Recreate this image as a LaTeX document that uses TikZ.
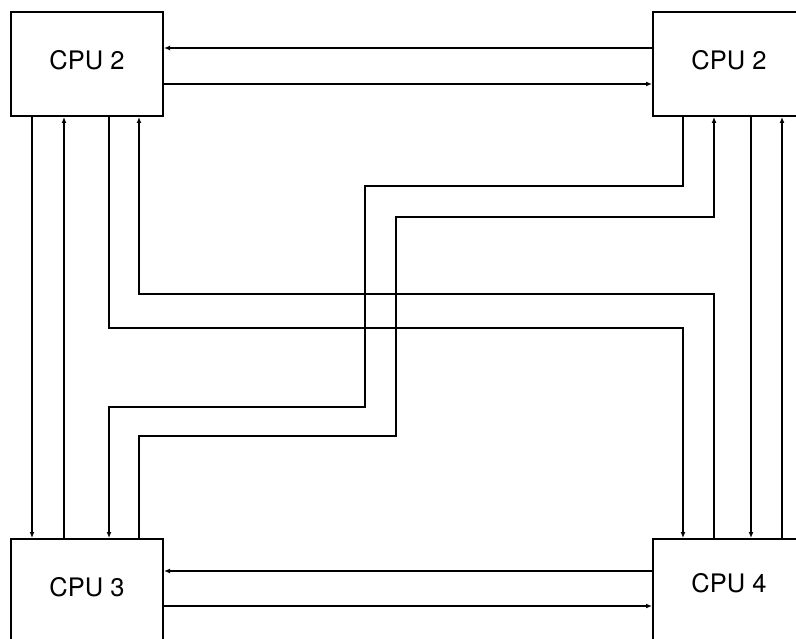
\documentclass[tikz,border=0pt]{standalone}
\usepackage{fontspec}
\setmainfont{TeX Gyre Heros}
\usetikzlibrary{arrows.meta,positioning}

\begin{document}
\begin{tikzpicture}[x=1pt,y=-1pt,
    cpu/.style={draw, line width=2pt, minimum width=152pt, minimum height=104pt,
                text depth=8pt, font=\fontsize{25.5}{30}\selectfont},
    link/.style={line width=1.5pt, -{Latex[length=6pt,width=5pt]}}]
        \useasboundingbox (0,0) rectangle (796,639);
        % processors
        \node[cpu] (tl) at (87,64) {CPU 2};
        \node[cpu] (tr) at (729,64) {CPU 2};
        \node[cpu] (c3) at (87,591) {CPU 3};
        \node[cpu, text depth=16pt] (c4) at (729,591) {CPU 4};
        % horizontal links
        \draw[link] ([yshift=16pt]tr.west) -- ([yshift=16pt]tl.east);
        \draw[link] ([yshift=-20pt]tl.east) -- ([yshift=-20pt]tr.west);
        \draw[link] ([yshift=20pt]c4.west) -- ([yshift=20pt]c3.east);
        \draw[link] ([yshift=-15pt]c3.east) -- ([yshift=-15pt]c4.west);
        % vertical links
        \draw[link] ([xshift=22pt]tl.south west) -- ([xshift=22pt]c3.north west);
        \draw[link] ([xshift=54pt]c3.north west) -- ([xshift=54pt]tl.south west);
        \draw[link] ([xshift=99pt]tr.south west) -- ([xshift=99pt]c4.north west);
        \draw[link] ([xshift=130pt]c4.north west) -- ([xshift=130pt]tr.south west);
        % crossing links
        \draw[link] ([xshift=99pt]tl.south west) -- ++(0,211)
          -| ([xshift=31pt]c4.north west);
        \draw[link] ([xshift=62pt]c4.north west) -- ++(0,-244)
          -| ([xshift=129pt]tl.south west);
        \draw[link] ([xshift=31pt]tr.south west) -- ++(0,69) -| ++(-318,221)
          -| ([xshift=99pt]c3.north west);
        \draw[link] ([xshift=129pt]c3.north west) -- ++(0,-102) -| ++(257,-219)
          -| ([xshift=62pt]tr.south west);
\end{tikzpicture}
\end{document}
